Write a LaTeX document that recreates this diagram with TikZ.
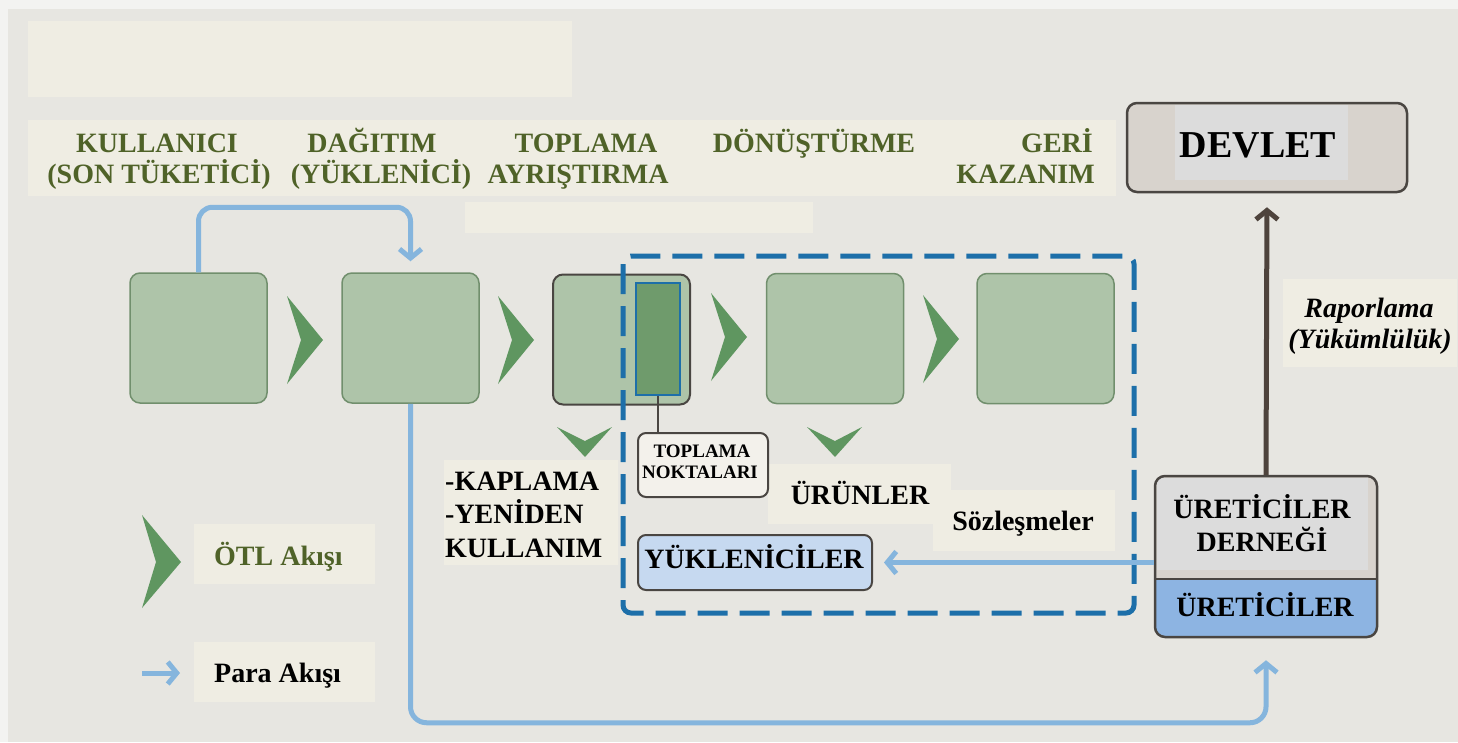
\documentclass[tikz,border=0pt]{standalone}
\usepackage{fontspec}
\setmainfont{Liberation Serif}
\usetikzlibrary{arrows.meta}
\definecolor{outerc}{HTML}{F3F3F1}
\definecolor{bgc}{HTML}{E7E6E1}
\definecolor{creamc}{HTML}{EFEDE3}
\definecolor{gfill}{HTML}{AEC4A9}
\definecolor{gline}{HTML}{718F6D}
\definecolor{ginner}{HTML}{6F9B6C}
\definecolor{chevc}{HTML}{5F9660}
\definecolor{hgreen}{HTML}{4F6228}
\definecolor{dashc}{HTML}{1D6FA9}
\definecolor{moneyc}{HTML}{85B5DD}
\definecolor{darkc}{HTML}{4E433C}
\definecolor{devfill}{HTML}{D8D3CD}
\definecolor{devinner}{HTML}{DCDCDC}
\definecolor{boxline}{HTML}{4A4642}
\definecolor{ublue}{HTML}{8DB4E2}
\definecolor{yfill}{HTML}{C6D9F0}
\definecolor{tfill}{HTML}{F3F1EB}
\begin{document}
\begin{tikzpicture}[x=1pt,y=-1pt,
  cream/.style={fill=creamc},
  gbox/.style={draw=gline, line width=1.5pt, fill=gfill, rounded corners=10pt,
    minimum width=137pt, minimum height=130pt, inner sep=0pt},
  chev/.style={fill=chevc},
  money/.style={draw=moneyc, line width=5pt, line join=round,
    -{Straight Barb[length=9pt,width=22pt]}},
  darkarrow/.style={draw=darkc, line width=5pt, line join=round,
    -{Straight Barb[length=9pt,width=22pt]}},
  hdr/.style={font=\bfseries\fontsize{28}{33}\selectfont, text=hgreen, inner sep=0pt},
  blk/.style={font=\bfseries\fontsize{28}{33}\selectfont, text=black, inner sep=0pt},
  chevd/.pic={\fill[chevc] (-28,-14) -- (0,0) -- (27,-14) -- (0,16) -- cycle;},
  chevr/.pic={\fill[chevc] (0,-44) -- (36,0) -- (0,44) -- (14,0) -- cycle;}
]
\useasboundingbox (0,0) rectangle (1458,742);
\fill[outerc] (0,0) rectangle (1458,742);
\fill[bgc] (8,9) rectangle (1458,742);

% cream backgrounds
\fill[cream] (28,21) rectangle (572,97);
\fill[cream] (28,120) rectangle (1116,196);
\fill[cream] (465,202) rectangle (813,233);
\fill[cream] (444,460) rectangle (618,565);
\fill[cream] (194,524) rectangle (375,584);
\fill[cream] (194,642) rectangle (375,702);
\fill[cream] (768,464) rectangle (951,524);
\fill[cream] (933,490) rectangle (1115,551);
\fill[cream] (1283,279) rectangle (1457,367);

% header labels
\node[hdr, anchor=base] (h1a) at (157,152) {KULLANICI};
\node[hdr, anchor=base] (h1b) at (159,183) {(SON TÜKETİCİ)};
\node[hdr, anchor=base] (h2a) at (372,152) {DAĞITIM};
\node[hdr, anchor=base] (h2b) at (381,183) {(YÜKLENİCİ)};
\node[hdr, anchor=base] (h3a) at (586,152) {TOPLAMA};
\node[hdr, anchor=base] (h3b) at (578,183) {AYRIŞTIRMA};
\node[hdr, anchor=base] (h4a) at (814,152) {DÖNÜŞTÜRME};
\node[hdr, anchor=base east] (h5a) at (1093,152) {GERİ};
\node[hdr, anchor=base east] (h5b) at (1095,183) {KAZANIM};

% DEVLET
\node[draw=boxline, line width=2.5pt, fill=devfill, rounded corners=10pt,
  minimum width=280pt, minimum height=89pt, inner sep=0pt] (devlet) at (1267,147.5) {};
\fill[devinner] (1175,105) rectangle (1348,180);
\node[blk, font=\bfseries\fontsize{38}{44}\selectfont, anchor=base] (devtxt) at (1258,157) {DEVLET};

% green process boxes
\node[gbox] (b1) at (198.5,338) {};
\node[gbox] (b2) at (410.5,338) {};
\node[gbox, draw=boxline, line width=2pt] (b3) at (621.5,339.5) {};
\node[gbox] (b4) at (835,338.5) {};
\node[gbox] (b5) at (1045.5,338.5) {};

% chevrons
\pic at (287,340) {chevr};
\pic at (498,340) {chevr};
\pic at (711,337) {chevr};
\pic at (923,339) {chevr};
\pic at (585,441) {chevd};
\pic at (835,441) {chevd};

% dashed zone
\draw[dashc, line width=5pt, rounded corners=8pt, dash pattern=on 30pt off 12pt]
  (623,256) rectangle (1134,613);

% collection points
\node[draw=dashc, line width=2.5pt, fill=ginner, minimum width=44pt, minimum height=112pt,
  inner sep=0pt] (inner) at (658,339) {};
\node[draw=boxline, line width=2pt, fill=tfill, rounded corners=8pt,
  minimum width=130pt, minimum height=64pt, inner sep=0pt] (tnok) at (703,465) {};
\draw[boxline, line width=2pt] (inner.south) -- (inner.south |- tnok.north);
\node[blk, font=\bfseries\fontsize{19}{22}\selectfont, anchor=base] (tn1) at (702,457) {TOPLAMA};
\node[blk, font=\bfseries\fontsize{19}{22}\selectfont, anchor=base] (tn2) at (700,478) {NOKTALARI};

% YÜKLENİCİLER
\node[draw=boxline, line width=2pt, fill=yfill, rounded corners=8pt,
  minimum width=234pt, minimum height=55pt, inner sep=0pt] (yuk) at (755,562.5) {};
\node[blk, anchor=base] (yuktxt) at (754,568) {YÜKLENİCİLER};

% ÜRETİCİLER
\fill[devfill, rounded corners=10pt] (1155,476) rectangle (1377,637);
\fill[devinner] (1157,478) rectangle (1368,570);
\begin{scope}
  \clip[rounded corners=10pt] (1155,476) rectangle (1377,637);
  \fill[ublue] (1155,579) rectangle (1377,637);
\end{scope}
\draw[boxline, line width=2pt] (1155,579) -- (1377,579);
\node[draw=boxline, line width=2.5pt, rounded corners=10pt,
  minimum width=222pt, minimum height=161pt, inner sep=0pt] (uret) at (1266,556.5) {};
\node[blk, anchor=base] (u1) at (1262,518) {ÜRETİCİLER};
\node[blk, anchor=base] (u2) at (1262,551) {DERNEĞİ};
\node[blk, anchor=base] (u3) at (1265,616) {ÜRETİCİLER};

% texts
\node[blk, anchor=base west] (kap) at (445,490) {-KAPLAMA};
\node[blk, anchor=base west] (yen) at (445,523) {-YENİDEN};
\node[blk, anchor=base west] (kul) at (445,557) {KULLANIM};
\node[blk, anchor=base] (urun) at (860,504) {ÜRÜNLER};
\node[blk, anchor=base] (soz) at (1023,530) {Sözleşmeler};
\node[blk, font=\bfseries\itshape\fontsize{28}{33}\selectfont, anchor=base] (rap1) at (1369,317) {Raporlama};
\node[blk, font=\bfseries\itshape\fontsize{28}{33}\selectfont, anchor=base] (rap2) at (1370,348) {(Yükümlülük)};

% arrows
\draw[money, rounded corners=14pt, shorten >=11pt] (b1.north) -- ++(0,-65) -| (b2.north);
\draw[money, rounded corners=16pt, shorten >=22pt] (b2.south) -- ++(0,319) -| (uret.south);
\draw[money, shorten >=11pt] (uret.west |- yuk.east) -- (yuk.east);
\draw[darkarrow, shorten >=14pt] (uret.north) -- (devlet.south);

% legend
\fill[chevc] (142,515) -- (181,562) -- (142,608) -- (156,562) -- cycle;
\node[hdr, anchor=base west] (leg1) at (214,565) {ÖTL Akışı};
\coordinate (la1) at (142,673);
\coordinate (la2) at (180,673);
\draw[money] (la1) -- (la2);
\node[blk, anchor=base west] (leg2) at (214,682) {Para Akışı};
\end{tikzpicture}
\end{document}
